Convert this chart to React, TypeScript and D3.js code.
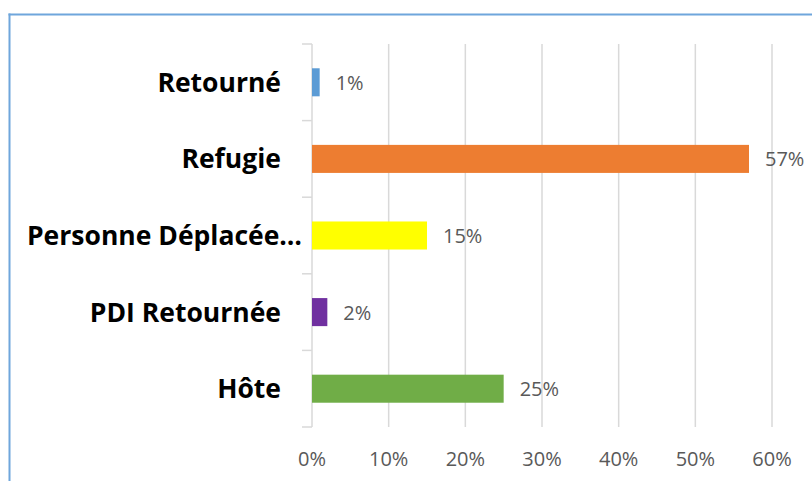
import React from "react";
import * as d3 from "d3";

const categories = ["Retourné", "Refugie", "Personne Déplacée…", "PDI Retournée", "Hôte"];
const values = [0.01, 0.57, 0.15, 0.02, 0.25];
const barColors = ["#5b9bd5", "#ed7d31", "#ffff00", "#7030a0", "#70ad47"];
const xTicks = [0, 0.1, 0.2, 0.3, 0.4, 0.5, 0.6];

const W = 812;
const H = 481;
const FONT = "'Open Sans', 'Noto Sans', sans-serif";

export default function App() {
  const x = d3.scaleLinear().domain([0, 0.6]).range([312, 772]);
  const yBand = d3.scaleBand<string>().domain(categories).range([44, 427]).paddingInner(0).paddingOuter(0);
  const yBar = d3
    .scaleBand<string>()
    .domain(categories)
    .range([44, 427])
    .paddingInner(0.634)
    .paddingOuter(0.317);
  const fmt = d3.format(".0%");
  const gridColor = "#d9d9d9";
  const tickYs = [...categories.map((c) => yBand(c) as number), 427];

  return (
    <svg
      width={W}
      height={H}
      style={{ position: "absolute", left: 0, top: 0, background: "#fff" }}
    >
      <rect x={0} y={0} width={W} height={H} fill="#fff" />
      {/* chart border */}
      <line x1={9.5} y1={13.5} x2={9.5} y2={H} stroke="#6fa6dc" strokeWidth={2} />
      <line x1={8.5} y1={14.5} x2={W} y2={14.5} stroke="#6fa6dc" strokeWidth={2} />

      {/* gridlines */}
      {xTicks.map((t) => (
        <line
          key={"g" + t}
          x1={x(t)}
          x2={x(t)}
          y1={44}
          y2={427}
          stroke={gridColor}
          strokeWidth={1.5}
        />
      ))}
      {/* category ticks */}
      {tickYs.map((ty, i) => (
        <line key={"t" + i} x1={302} x2={312} y1={ty} y2={ty} stroke={gridColor} strokeWidth={1.5} />
      ))}

      {/* bars */}
      {categories.map((c, i) => (
        <rect
          key={"b" + c}
          x={x(0)}
          y={yBar(c)}
          width={x(values[i]) - x(0)}
          height={yBar.bandwidth()}
          fill={barColors[i]}
        />
      ))}

      {/* value labels */}
      {categories.map((c, i) => (
        <text
          key={"v" + c}
          x={x(values[i]) + 16}
          y={(yBar(c) as number) + yBar.bandwidth() / 2 + 7.5}
          fontFamily={FONT}
          fontSize={20}
          fill="#595959"
        >
          {fmt(values[i])}
        </text>
      ))}

      {/* category labels */}
      {categories.map((c, i) => (
        <text
          key={"c" + c}
          x={c.endsWith("…") ? 302 : 281}
          y={(yBand(c) as number) + yBand.bandwidth() / 2 + 9.5}
          textAnchor="end"
          fontFamily={FONT}
          fontWeight="bold"
          fontSize={26.5}
          fill="#000"
        >
          {c}
        </text>
      ))}

      {/* x tick labels */}
      {xTicks.map((t) => (
        <text
          key={"xl" + t}
          x={x(t)}
          y={466}
          textAnchor="middle"
          fontFamily={FONT}
          fontSize={20}
          fill="#595959"
        >
          {fmt(t)}
        </text>
      ))}
    </svg>
  );
}
